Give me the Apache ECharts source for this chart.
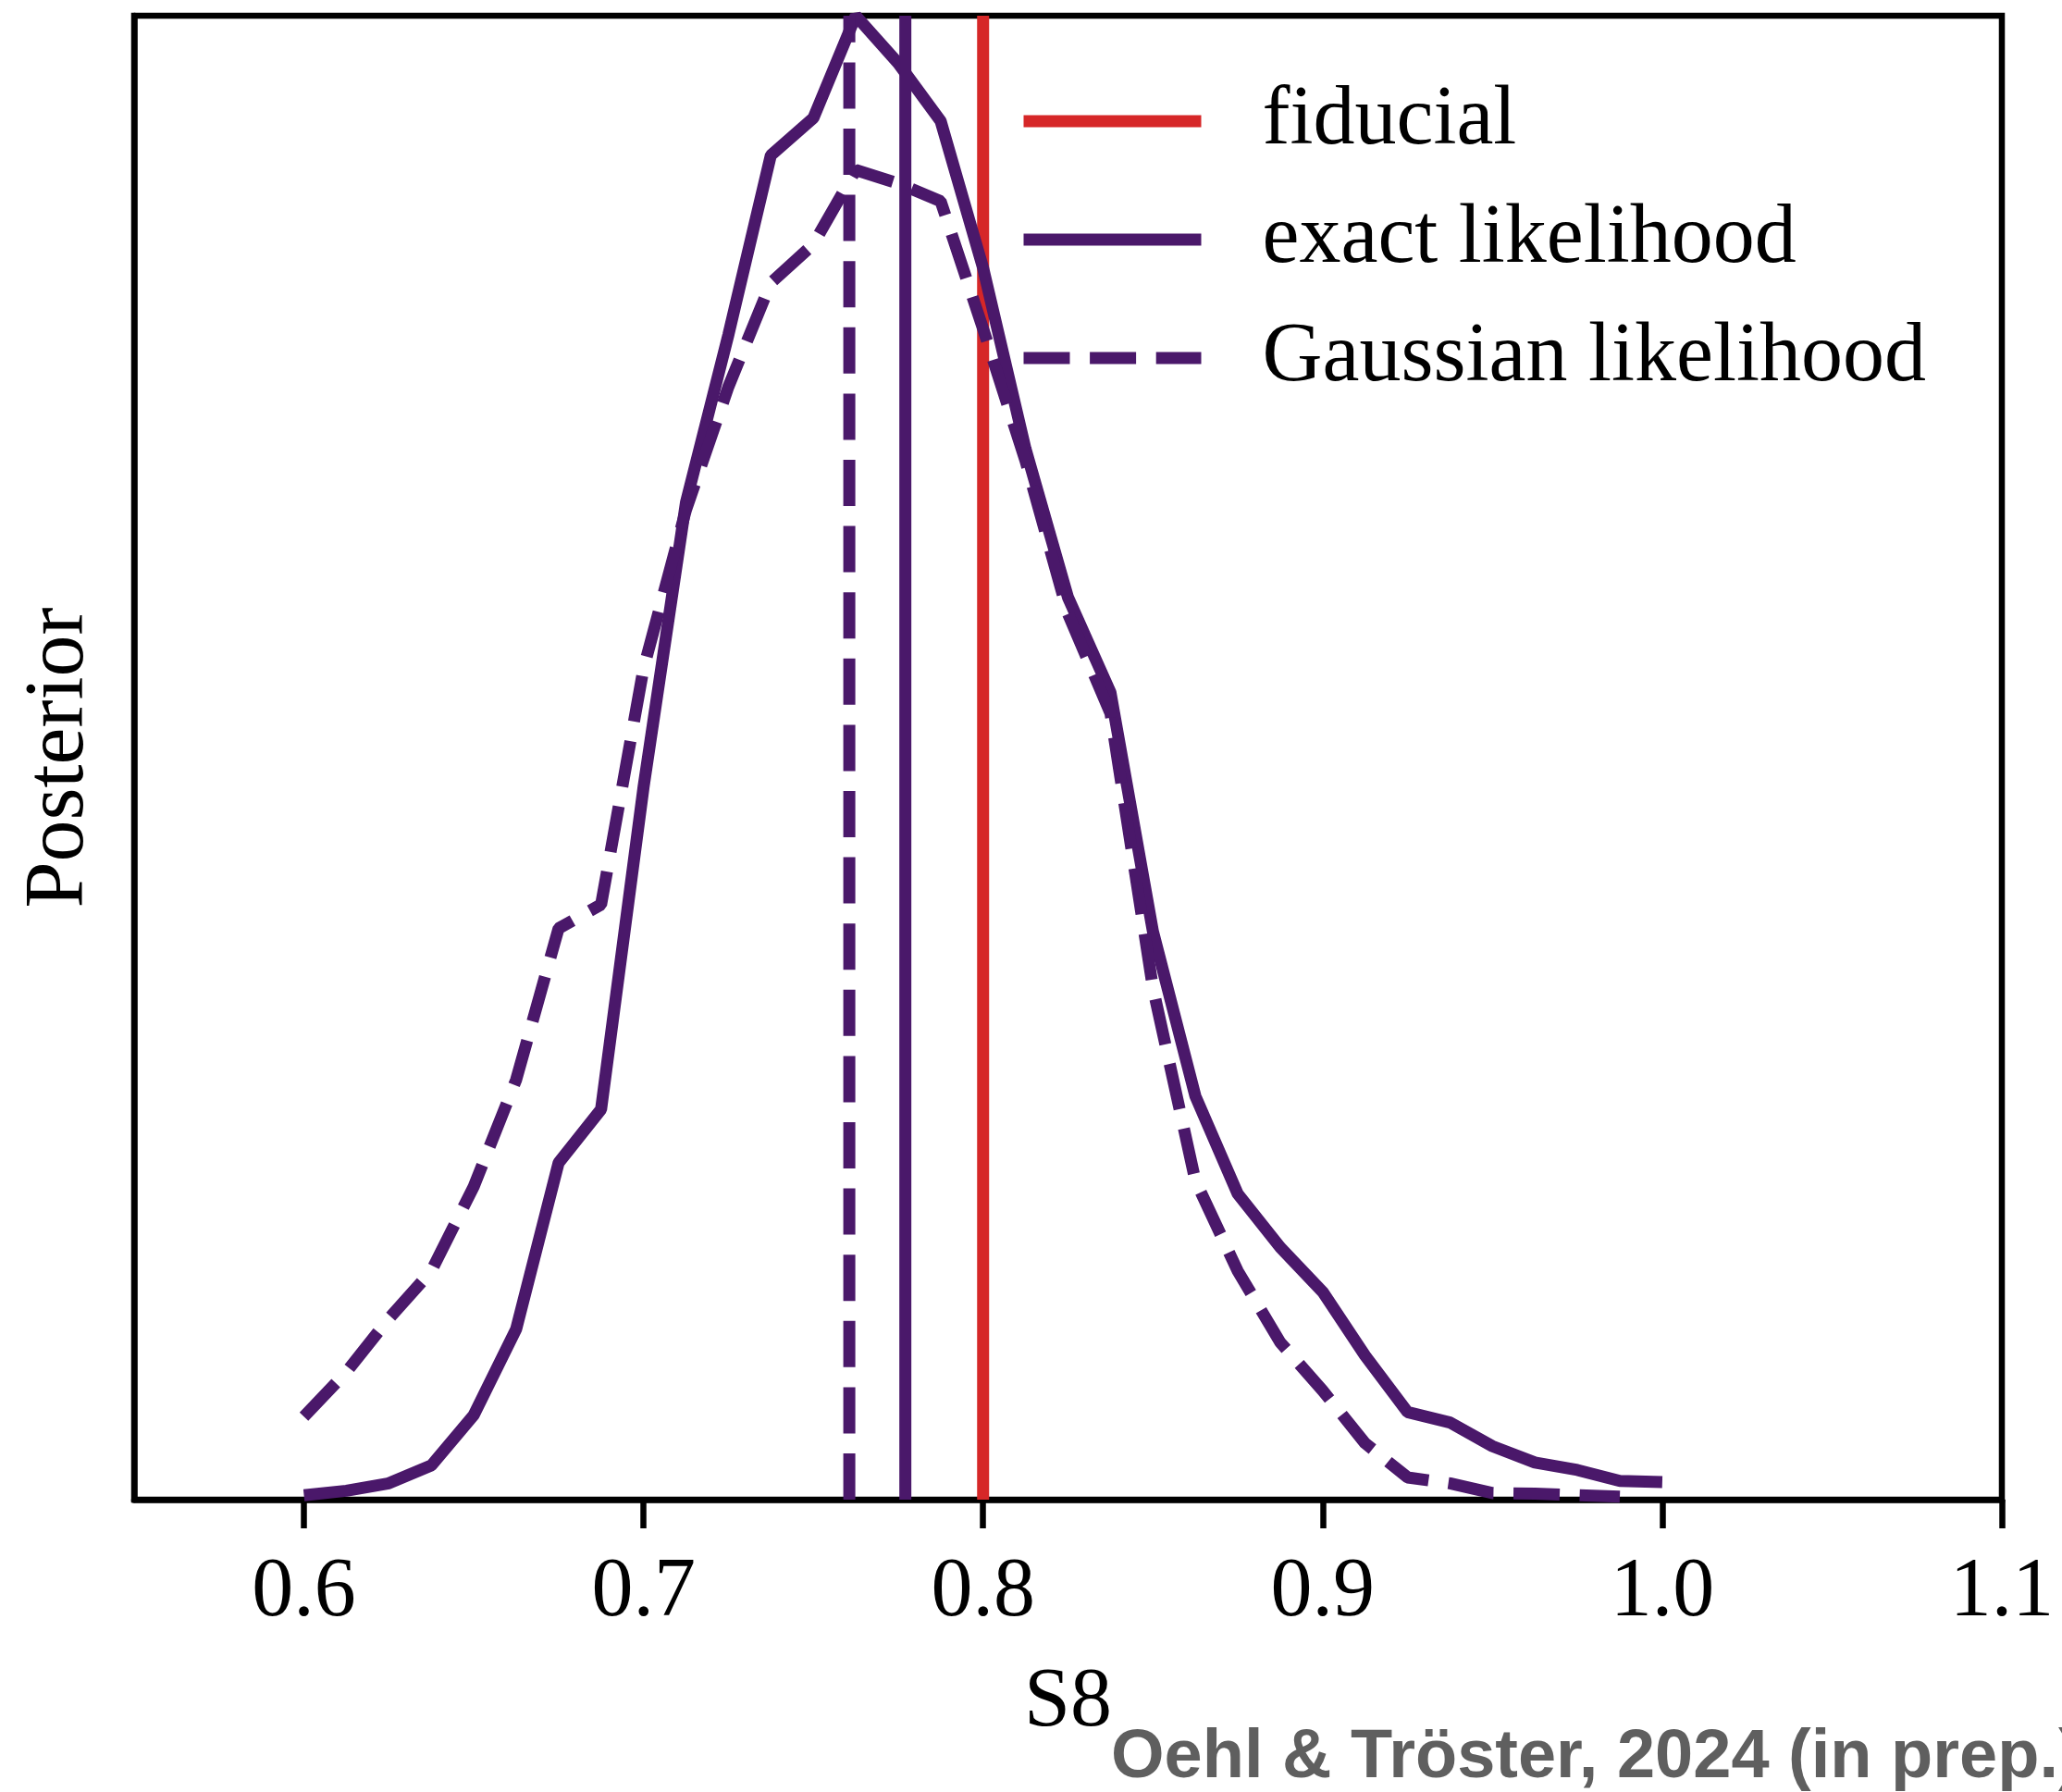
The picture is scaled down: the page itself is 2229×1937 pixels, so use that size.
<!DOCTYPE html>
<html><head><meta charset="utf-8">
<script src="https://cdn.jsdelivr.net/npm/echarts@6/dist/echarts.min.js"></script>
<style>html,body{margin:0;padding:0;background:#fff}#c{width:2229px;height:1937px}</style>
</head><body><div id="c"></div>
<script>
// ---- data ----
const s8Grid = [0.6,0.6125,0.625,0.6375,0.65,0.6625,0.675,0.6875,0.7,0.7125,0.725,0.7375,0.75,0.7625,0.775,0.7875,0.8,0.8125,0.825,0.8375,0.85,0.8625,0.875,0.8875,0.9,0.9125,0.925,0.9375,0.95,0.9625,0.975,0.9875,1.0];
const exactPosterior = [0.003,0.006,0.011,0.023,0.057,0.115,0.227,0.263,0.48,0.672,0.785,0.906,0.931,1.0,0.968,0.929,0.83,0.708,0.608,0.544,0.383,0.272,0.206,0.170,0.140,0.097,0.059,0.052,0.036,0.025,0.020,0.0126,0.0118];
const gaussianPosterior = [0.056,0.086,0.122,0.154,0.211,0.283,0.385,0.401,0.56,0.667,0.75,0.82,0.846,0.896,0.887,0.875,0.789,0.700,0.597,0.530,0.345,0.215,0.154,0.106,0.0735,0.038,0.015,0.011,0.0044,0.004,0.003,0.002];
const fiducialS8 = 0.8;
const exactMeanS8 = 0.7771;
const gaussianMeanS8 = 0.7606;
const tickValues = [0.6,0.7,0.8,0.9,1.0,1.1];
const tickLabels = ['0.6','0.7','0.8','0.9','1.0','1.1'];
const seriesNames = ['fiducial','exact likelihood','Gaussian likelihood'];
const xAxisName = 'S8';
const yAxisName = 'Posterior';
const creditText = 'Oehl & Tröster, 2024 (in prep.)';

// ---- styles ----
const RED = '#d62728';
const PURPLE = '#4a186a';
const SERIF = 'Liberation Serif';
const LW = 13;
const DASH = [50, 21.6];
const AXW = 6.5;

const pairs = (xs, ys) => ys.map((y, i) => [xs[i], y]);
const vline = x => [[x, 0], [x, 1]];

const chart = echarts.init(document.getElementById('c'), null, {renderer: 'canvas'});
chart.setOption({
  animation: false,
  backgroundColor: '#fff',
  grid: {left: 145, right: 65, top: 17, bottom: 316, show: true, borderColor: '#000', borderWidth: AXW, backgroundColor: 'transparent'},
  xAxis: {
    type: 'value', min: 0.55, max: 1.1,
    name: xAxisName, nameLocation: 'middle', nameGap: 175,
    nameTextStyle: {fontFamily: SERIF, fontSize: 90, color: '#000'},
    axisLine: {show: true, lineStyle: {color: '#000', width: AXW}},
    axisTick: {show: true, length: 31, lineStyle: {color: '#000', width: AXW}, customValues: tickValues},
    axisLabel: {
      customValues: tickValues, margin: 56,
      fontFamily: SERIF, fontSize: 90, color: '#000',
      formatter: v => { const i = tickValues.findIndex(t => Math.abs(t - v) < 1e-9); return i >= 0 ? tickLabels[i] : ''; }
    },
    splitLine: {show: false}
  },
  yAxis: {
    type: 'value', min: 0, max: 1,
    name: yAxisName, nameLocation: 'middle', nameGap: 35, nameRotate: 90,
    nameTextStyle: {fontFamily: SERIF, fontSize: 90, color: '#000'},
    axisLine: {show: true, lineStyle: {color: '#000', width: AXW}},
    axisTick: {show: false}, axisLabel: {show: false}, splitLine: {show: false}
  },
  legend: {
    orient: 'vertical', left: 1095, top: 74,
    itemWidth: 192, itemHeight: 1, itemGap: 24,
    data: seriesNames,
    lineStyle: {width: LW},
    textStyle: {fontFamily: SERIF, fontSize: 90, color: '#000', lineHeight: 90, padding: [14, 0, 0, 61]}
  },
  series: [
    {
      name: seriesNames[0], type: 'line', symbol: 'none',
      data: vline(fiducialS8),
      lineStyle: {color: RED, width: LW}, itemStyle: {color: RED}
    },
    {
      name: seriesNames[1], type: 'line', symbol: 'none',
      data: pairs(s8Grid, exactPosterior),
      lineStyle: {color: PURPLE, width: LW, type: 'solid'}, itemStyle: {color: PURPLE}
    },
    {
      name: seriesNames[2], type: 'line', symbol: 'none',
      data: pairs(s8Grid, gaussianPosterior),
      lineStyle: {color: PURPLE, width: LW, type: DASH}, itemStyle: {color: PURPLE}
    },
    {
      name: seriesNames[1], type: 'line', symbol: 'none',
      data: vline(exactMeanS8),
      lineStyle: {color: PURPLE, width: LW, type: 'solid'}, itemStyle: {color: PURPLE}
    },
    {
      name: seriesNames[2], type: 'line', symbol: 'none',
      data: vline(gaussianMeanS8),
      lineStyle: {color: PURPLE, width: LW, type: DASH}, itemStyle: {color: PURPLE}
    }
  ],
  graphic: [{
    type: 'text', x: 1201, y: 1901,
    style: {text: creditText, font: 'bold 74px "Liberation Sans"', fill: '#5f5f5f', align: 'left', verticalAlign: 'middle'}
  }]
});
</script>
</body></html>
